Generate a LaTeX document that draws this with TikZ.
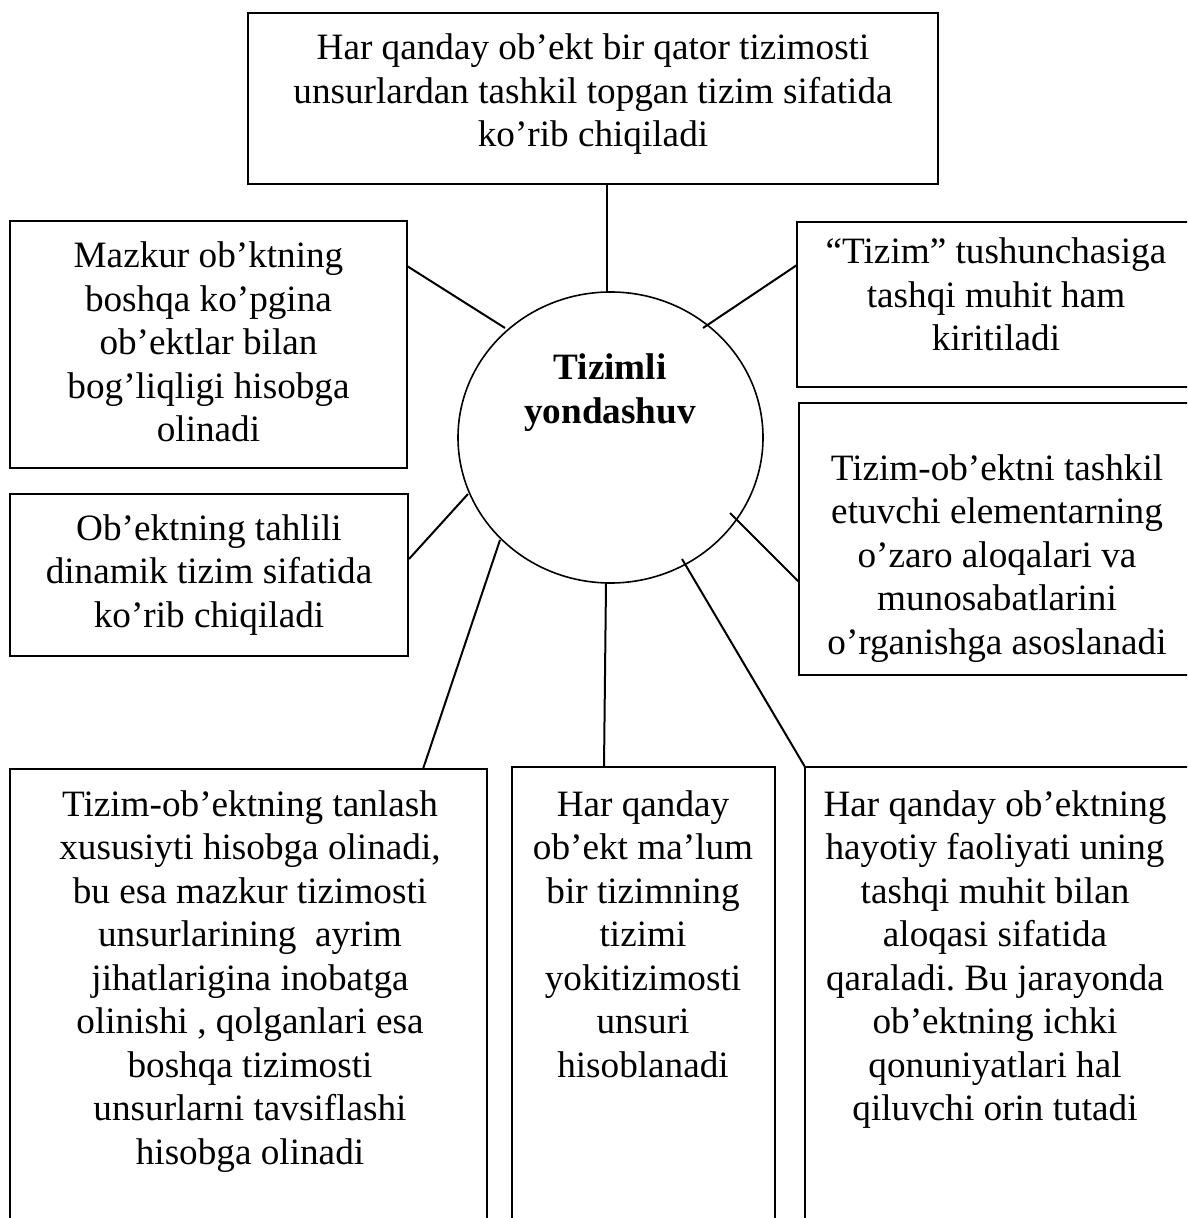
\documentclass[tikz,border=0pt]{standalone}
\usepackage{fontspec}
\setmainfont{Liberation Serif}
\usetikzlibrary{shapes.geometric}
\frenchspacing
\begin{document}
\begin{tikzpicture}[x=0.5pt,y=-0.5pt,
  box/.style={draw,line width=1pt,rectangle,inner sep=0pt,outer sep=0pt,anchor=north west},
  % multi-line labels sit on the baseline of their last line
  lbl/.style={align=center,anchor=base,inner sep=0pt,font=\fontsize{18.6pt}{21.75pt}\selectfont},
  hublbl/.style={lbl,font=\fontsize{18.6pt}{21.75pt}\selectfont\bfseries},
  link/.style={line width=1pt},
]
\useasboundingbox (0,0) rectangle (1187,1218);
\clip (0,0) rectangle (1187,1218);

% central ellipse
\node[draw,ellipse,line width=0.8pt,minimum width=152.5pt,minimum height=145.5pt,inner sep=0pt] (hub) at (610.5,437.5) {};
\node[hublbl] (hubtxt) at (610,423.5) {Tizimli\\yondashuv};

% boxes
\node[box,minimum width=345pt,minimum height=85.5pt] (T) at (248,13) {};
\node[box,minimum width=198.5pt,minimum height=123.5pt] (L1) at (10,221) {};
\node[box,minimum width=199pt,minimum height=81pt] (L2) at (10,494) {};
\node[box,minimum width=200pt,minimum height=82.5pt] (R1) at (797,222) {};
\node[box,minimum width=199pt,minimum height=136pt] (R2) at (799,403) {};
\node[box,minimum width=238.5pt,minimum height=250pt] (B1) at (10,769) {};
\node[box,minimum width=131.5pt,minimum height=250pt] (B2) at (512,767) {};
\node[box,minimum width=196pt,minimum height=250pt] (B3) at (805,767) {};

% box texts
\node[lbl] (Ttxt) at (593,147) {Har qanday ob’ekt bir qator tizimosti\\unsurlardan tashkil topgan tizim sifatida\\ko’rib chiqiladi};
\node[lbl] (L1txt) at (208.5,442) {Mazkur ob’ktning\\boshqa ko’pgina\\ob’ektlar bilan\\bog’liqligi hisobga\\olinadi};
\node[lbl] (L2txt) at (209,627) {Ob’ektning tahlili\\dinamik tizim sifatida\\ko’rib chiqiladi};
\node[lbl] (R1txt) at (996,351) {“Tizim” tushunchasiga\\tashqi muhit ham\\kiritiladi};
\node[lbl] (R2txt) at (997,654) {Tizim-ob’ektni tashkil\\etuvchi elementarning\\o’zaro aloqalari va\\munosabatlarini\\o’rganishga asoslanadi};
\node[lbl] (B1txt) at (250,1164) {Tizim-ob’ektning tanlash\\xususiyti hisobga olinadi,\\bu esa mazkur tizimosti\\unsurlarining\ \ ayrim\\jihatlarigina inobatga\\olinishi , qolganlari esa\\boshqa tizimosti\\unsurlarni tavsiflashi\\hisobga olinadi};
\node[lbl] (B2txt) at (643,1077) {Har qanday\\ob’ekt ma’lum\\bir tizimning\\tizimi\\yokitizimosti\\unsuri\\hisoblanadi};
\node[lbl] (B3txt) at (995,1120.5) {Har qanday ob’ektning\\hayotiy faoliyati uning\\tashqi muhit bilan\\aloqasi sifatida\\qaraladi. Bu jarayonda\\ob’ektning ichki\\qonuniyatlari hal\\qiluvchi orin tutadi};

% connector end points
\coordinate (cT) at (607,184);   \coordinate (hT) at (607,292);
\coordinate (cL1) at (407,266);  \coordinate (hL1) at (505,328);
\coordinate (cL2) at (409,559);  \coordinate (hL2) at (468,494);
\coordinate (cB1) at (423,769);  \coordinate (hB1) at (500,540);
\coordinate (cB2) at (604,767);  \coordinate (hB2) at (606,583);
\coordinate (cB3) at (805,767);  \coordinate (hB3) at (682,559);
\coordinate (cR2) at (799,582);  \coordinate (hR2) at (730,513);
\coordinate (cR1) at (797,265);  \coordinate (hR1) at (703,328);

% connectors
\draw[link] (cT) -- (hT);
\draw[link] (cL1) -- (hL1);
\draw[link] (cL2) -- (hL2);
\draw[link] (hB1) -- (cB1);
\draw[link] (hB2) -- (cB2);
\draw[link] (hB3) -- (cB3);
\draw[link] (hR2) -- (cR2);
\draw[link] (hR1) -- (cR1);
\end{tikzpicture}
\end{document}
